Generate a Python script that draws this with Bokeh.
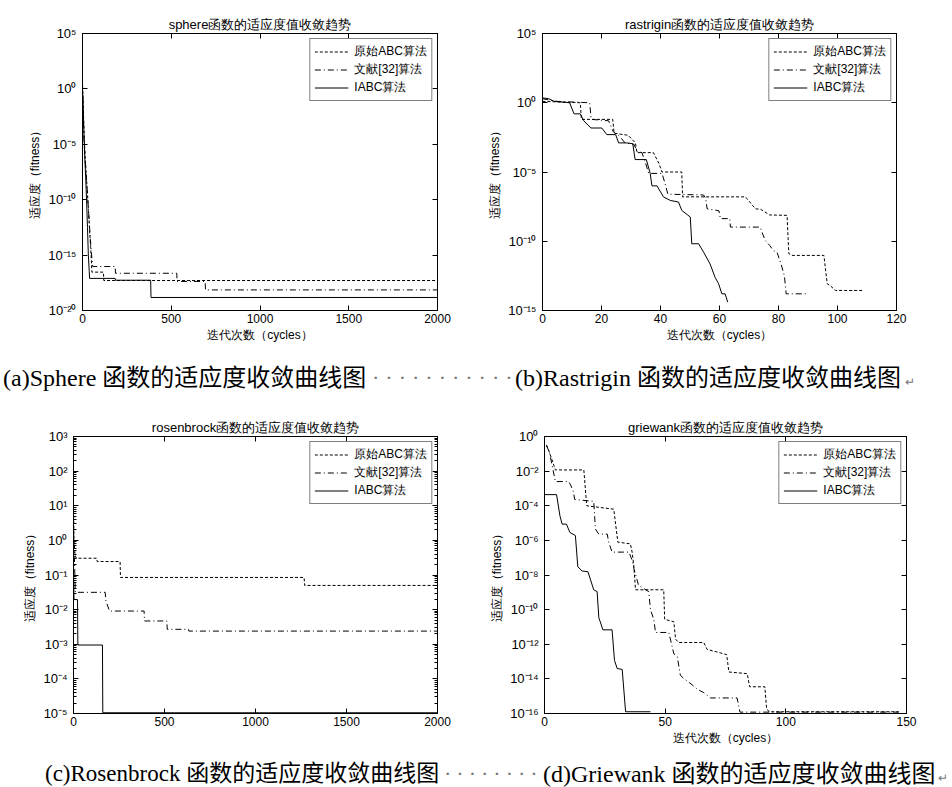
from bokeh.plotting import figure
from bokeh.models import (FixedTicker, LinearAxis, LogAxis, CustomJSTickFormatter,
                          Div, Range1d)
from bokeh.layouts import column, row
from bokeh.embed import file_html
from bokeh.resources import INLINE

# ---------------- data ----------------
LEGEND_LABELS = ["原始ABC算法", "文献[32]算法", "IABC算法"]

# (a) sphere
sphere_abc_iter = [0, 5, 10, 16, 22, 28, 34, 40, 46, 50, 53, 118, 120, 2000]
sphere_abc_fit = [2.0, 1e-2, 3.2e-5, 3.2e-7, 1e-8, 3.2e-10, 1e-11, 1.6e-13, 5e-15,
                  3.2e-16, 2.9e-17, 2.9e-17, 5.1e-18, 5.1e-18]
sphere_lit_iter = [0, 4, 8, 14, 20, 26, 32, 38, 44, 50, 55, 58, 184, 186, 531, 533,
                   691, 693, 2000]
sphere_lit_fit = [3.2, 3.2e-3, 3.2e-5, 1e-6, 3.2e-8, 1e-9, 3.2e-11, 1e-12, 3.2e-14,
                  1.6e-15, 2.5e-16, 9.3e-17, 9.3e-17, 2.3e-17, 2.3e-17, 4.2e-18,
                  4.2e-18, 7.2e-19, 7.2e-19]
sphere_iabc_iter = [0, 3, 8, 12, 18, 24, 28, 33, 38, 40, 184, 186, 384, 386, 2000]
sphere_iabc_fit = [1.0, 1e-1, 1e-4, 1e-6, 1e-8, 3.2e-11, 3.2e-13, 1e-15, 3.2e-17,
                   7.9e-18, 7.9e-18, 5.4e-18, 5.4e-18, 1.5e-19, 1.5e-19]

# (b) rastrigin
rastrigin_abc_iter = [0, 12.8, 13.2, 23.8, 24.3, 29, 31.5, 32, 37.6, 39.5, 40.5, 47.2,
                      47.5, 68.8, 72.2, 74, 77, 82.9, 83.5, 84.6, 95.4, 96.5, 97.5,
                      99.3, 108.9]
rastrigin_abc_fit = [1.26, 1.0, 6.3e-2, 6.3e-2, 6.3e-3, 4.5e-3, 1.26e-3, 2.5e-4, 2.5e-4,
                     4.0e-5, 1e-5, 1e-5, 1.6e-7, 1.6e-7, 2.2e-8, 2.0e-8, 7.9e-9,
                     7.4e-9, 1.26e-11, 9.5e-12, 9.5e-12, 8.5e-14, 6.3e-14, 2.8e-14,
                     2.8e-14]
rastrigin_lit_iter = [0, 2, 5, 16, 16.5, 22.4, 24, 26, 28, 31, 32, 33.7, 35, 36, 40.5,
                      41.5, 42.5, 54.6, 55.3, 55.8, 59.8, 60.3, 63.5, 63.7, 73.8, 74.5,
                      75.5, 77, 78.2, 79.5, 80.8, 82, 82.6, 89.6]
rastrigin_lit_fit = [2.0, 1.58, 1.26, 1.0, 6.3e-2, 5.0e-2, 7.9e-3, 4.0e-3, 1.26e-3,
                     1e-3, 3.2e-4, 2.5e-4, 4.0e-5, 7.9e-6, 7.9e-6, 1.6e-6, 2.5e-7,
                     2.2e-7, 1.26e-7, 2.2e-8, 1.6e-8, 4.3e-9, 4.3e-9, 1.05e-9, 1.05e-9,
                     4.0e-10, 1.15e-10, 5.0e-11, 2.2e-11, 1.6e-11, 2.5e-12, 3.2e-13,
                     1.6e-14, 1.6e-14]
rastrigin_iabc_iter = [0, 2, 4, 9.2, 10.7, 12.8, 14, 16.4, 20.1, 21.8, 24.8, 25.8, 28.6,
                       30.6, 31.4, 35.2, 36.5, 37.1, 38.8, 41, 43.3, 46.1, 47.2, 50.1,
                       50.6, 52.9, 54.6, 56.8, 58.5, 59.7, 60.8, 61.9, 62.8]
rastrigin_iabc_fit = [2.2, 2.0, 1.26, 1.0, 0.158, 0.158, 5.0e-2, 1.5e-2, 1.5e-2, 5.0e-3,
                      5.0e-3, 1.26e-3, 1.26e-3, 1.1e-3, 7.9e-5, 7.9e-5, 7.9e-6, 1e-6,
                      1e-6, 1.6e-7, 8.9e-8, 6.8e-8, 1.7e-8, 5.6e-9, 6.6e-11, 6.6e-11,
                      1.66e-11, 2.3e-12, 2.5e-13, 8.5e-14, 1.6e-14, 1.6e-14, 4.0e-15]

# (c) rosenbrock
rosen_abc_iter = [0, 3, 8, 15, 128, 130, 256, 258, 1267, 1270, 2000]
rosen_abc_fit = [10.0, 1.0, 0.4, 0.305, 0.305, 0.245, 0.245, 0.085, 0.085, 0.05, 0.05]
rosen_lit_iter = [0, 5, 10, 174, 178, 198, 388, 390, 513, 515, 632, 634, 2000]
rosen_lit_fit = [2.0, 0.316, 0.0316, 0.0316, 0.0178, 0.0091, 0.0091, 0.0047, 0.0047,
                 0.0027, 0.0027, 0.0024, 0.0024]
rosen_iabc_iter = [0, 3, 22, 24, 159, 161, 2000]
rosen_iabc_fit = [0.126, 0.0195, 0.0195, 0.00095, 0.00095, 1.05e-5, 1.05e-5]

# (d) griewank
griewank_abc_iter = [0.8, 2, 3.5, 4.5, 16.3, 17.5, 28.7, 30.4, 35.6, 36.3, 37, 37.7,
                     49.4, 49.8, 53.6, 54.3, 55.6, 66, 67.4, 72.8, 75.5, 76.4, 84, 85,
                     91.3, 92, 93, 146.8]
griewank_abc_fit = [0.316, 0.126, 0.0316, 0.0117, 0.0117, 1e-4, 6.3e-5, 7.9e-7, 6.3e-7,
                    2.1e-7, 3.7e-8, 1.4e-9, 1.4e-9, 2.75e-11, 2.0e-11, 2.0e-12,
                    1.26e-12, 1.26e-12, 5.0e-13, 3.2e-13, 2.5e-13, 2.5e-14, 2.0e-14,
                    3.5e-15, 3.5e-15, 2.1e-16, 1.26e-16, 1.26e-16]
griewank_lit_iter = [0.8, 2, 3.5, 4.5, 10, 10.8, 12, 12.5, 20.4, 21.1, 22.5, 26, 26.6,
                     28, 35, 36.3, 37, 38.4, 39, 43.2, 43.9, 45.3, 46, 51.5, 53.6, 55,
                     56.3, 57.7, 61.2, 63.3, 66, 68.8, 79.8, 81, 146.8]
griewank_lit_fit = [0.316, 0.126, 0.0126, 2.5e-3, 2.5e-3, 1.6e-3, 6.3e-4, 2.3e-4,
                    1.8e-4, 4.5e-6, 2.3e-6, 2.3e-6, 7.9e-7, 2.1e-7, 2.1e-7, 7.1e-8,
                    2.5e-8, 5.0e-9, 2.5e-9, 1.1e-9, 1.0e-10, 2.75e-11, 4.8e-12,
                    4.8e-12, 2.8e-13, 2.0e-13, 1.6e-14, 1.07e-14, 4.5e-15, 2.5e-15,
                    1.6e-15, 7.9e-16, 7.9e-16, 1.2e-16, 1.2e-16]
griewank_iabc_iter = [0, 5, 6.4, 7.3, 9.1, 10.5, 12.8, 13.8, 15.6, 18, 20.4, 21.8, 22.5,
                      24.2, 28.0, 29, 30.1, 32.2, 33.6, 43.9]
griewank_iabc_fit = [4.4e-4, 4.4e-4, 2.6e-5, 8.7e-6, 8.7e-6, 2.9e-6, 1.9e-6, 3.0e-8,
                     1.7e-8, 1.55e-8, 1.4e-9, 1.1e-9, 3.5e-11, 6.8e-12, 6.8e-12,
                     1.17e-13, 4.0e-14, 3.5e-14, 1.26e-16, 1.26e-16]

# titles / axis labels / ticks
titles = ["sphere函数的适应度值收敛趋势", "rastrigin函数的适应度值收敛趋势",
          "rosenbrock函数的适应度值收敛趋势", "griewank函数的适应度值收敛趋势"]
x_label = "迭代次数（cycles）"
y_label = "适应度（fitness）"
sphere_xticks = [0, 500, 1000, 1500, 2000]
rastrigin_xticks = [0, 20, 40, 60, 80, 100, 120]
rosen_xticks = [0, 500, 1000, 1500, 2000]
griewank_xticks = [0, 50, 100, 150]
sphere_yticks = [1e-20, 1e-15, 1e-10, 1e-5, 1e0, 1e5]
rastrigin_yticks = [1e-15, 1e-10, 1e-5, 1e0, 1e5]
rosen_yticks = [1e-5, 1e-4, 1e-3, 1e-2, 1e-1, 1e0, 1e1, 1e2, 1e3]
griewank_yticks = [1e-16, 1e-14, 1e-12, 1e-10, 1e-8, 1e-6, 1e-4, 1e-2, 1e0]
rosen_minor = [k * 10.0 ** e for e in range(-5, 3) for k in range(2, 10)]

# ---------------- styling ----------------
FONT = "Liberation Sans"
DASHES = ["3 2", "6 3 1 3", "solid"]

SUP_CODE = """
const sup = {"0":"⁰","1":"¹","2":"²","3":"³","4":"⁴","5":"⁵","6":"⁶","7":"⁷","8":"⁸","9":"⁹","-":"⁻"};
const e = Math.round(Math.log10(tick));
let s = "";
for (const ch of String(e)) { s += sup[ch]; }
return "10" + s;
"""


def panel(title, series, xr, xticks, yr, yticks, minor, size, borders, show_xlabel=True):
    w, h = size
    bl, br, bt, bb = borders
    p = figure(width=w, height=h, y_axis_type="log",
               x_range=Range1d(*xr), y_range=Range1d(*yr),
               output_backend="svg", toolbar_location=None, title=title,
               min_border_left=bl, min_border_right=br,
               min_border_top=bt, min_border_bottom=bb)
    p.title.text_font = FONT
    p.title.text_font_size = "13px"
    p.title.text_font_style = "normal"
    p.title.text_color = "black"
    p.title.align = "center"
    p.title.standoff = 3
    p.grid.visible = False
    p.outline_line_color = "black"
    p.outline_line_width = 1
    p.background_fill_color = "white"
    p.border_fill_color = "white"

    xt = FixedTicker(ticks=xticks)
    yt = FixedTicker(ticks=yticks, minor_ticks=minor)
    fmt = CustomJSTickFormatter(code=SUP_CODE)

    xa = p.xaxis[0]
    xa.ticker = xt
    ya = p.yaxis[0]
    ya.ticker = yt
    ya.formatter = fmt
    for ax in (xa, ya):
        ax.major_tick_in = 5
        ax.major_tick_out = 0
        ax.minor_tick_in = 3
        ax.minor_tick_out = 0
        ax.major_label_text_font = FONT
        ax.major_label_text_color = "black"
        ax.axis_line_color = "black"
        ax.major_tick_line_color = "black"
        ax.axis_label_text_font = FONT
        ax.axis_label_text_font_size = "12px"
        ax.axis_label_text_font_style = "normal"
        ax.axis_label_text_color = "black"
    xa.major_label_text_font_size = "12px"
    ya.major_label_text_font_size = "13px"
    xa.minor_tick_line_color = None
    if not minor:
        ya.minor_tick_line_color = None
    xa.major_label_standoff = 3
    xa.axis_label_standoff = 2
    ya.major_label_standoff = 6
    ya.axis_label_standoff = 3
    if show_xlabel:
        xa.axis_label = x_label
    ya.axis_label = y_label

    # tick marks on the top and right edges (labels hidden)
    top = LinearAxis(ticker=xt, major_tick_in=5, major_tick_out=0,
                     minor_tick_line_color=None, major_label_standoff=0,
                     major_label_text_font_size="1px", major_label_text_alpha=0,
                     axis_line_color="black")
    right = LogAxis(ticker=yt, major_tick_in=5, major_tick_out=0, minor_tick_in=3,
                    minor_tick_out=0, major_label_standoff=0,
                    major_label_text_font_size="1px", major_label_text_alpha=0,
                    axis_line_color="black")
    if not minor:
        right.minor_tick_line_color = None
    p.add_layout(top, "above")
    p.add_layout(right, "right")

    for (xs, ys), dash, lab in zip(series, DASHES, LEGEND_LABELS):
        p.line(xs, ys, line_color="black", line_width=1, line_dash=dash, legend_label=lab)

    lg = p.legend[0]
    lg.location = "top_right"
    lg.margin = 5
    lg.padding = 4
    lg.spacing = 1
    lg.glyph_width = 34
    lg.glyph_height = 13
    lg.label_height = 13
    lg.label_standoff = 6
    lg.label_text_font = FONT
    lg.label_text_font_size = "12px"
    lg.label_text_color = "black"
    lg.border_line_color = "black"
    lg.border_line_width = 1
    lg.background_fill_color = "white"
    lg.background_fill_alpha = 1
    return p


pa = panel(titles[0],
           [(sphere_abc_iter, sphere_abc_fit), (sphere_lit_iter, sphere_lit_fit),
            (sphere_iabc_iter, sphere_iabc_fit)],
           (0, 2000), sphere_xticks, (1e-20, 1e5), sphere_yticks, [],
           (470, 350), (82, 33, 32, 40))
pb = panel(titles[1],
           [(rastrigin_abc_iter, rastrigin_abc_fit), (rastrigin_lit_iter, rastrigin_lit_fit),
            (rastrigin_iabc_iter, rastrigin_iabc_fit)],
           (0, 120), rastrigin_xticks, (1e-15, 1e5), rastrigin_yticks, [],
           (482, 350), (72, 56, 33, 40))
pc = panel(titles[2],
           [(rosen_abc_iter, rosen_abc_fit), (rosen_lit_iter, rosen_lit_fit),
            (rosen_iabc_iter, rosen_iabc_fit)],
           (0, 2000), rosen_xticks, (1e-5, 1e3), rosen_yticks, rosen_minor,
           (470, 355), (73, 33, 39, 37), show_xlabel=False)
pd_ = panel(titles[3],
            [(griewank_abc_iter, griewank_abc_fit), (griewank_lit_iter, griewank_lit_fit),
             (griewank_iabc_iter, griewank_iabc_fit)],
            (0, 150), griewank_xticks, (1e-16, 1e0), griewank_yticks, [],
            (482, 355), (74, 46, 41, 33))

# ---------------- captions ----------------
captions_1 = ["(a)Sphere 函数的适应度收敛曲线图", "(b)Rastrigin 函数的适应度收敛曲线图"]
captions_2 = ["(c)Rosenbrock 函数的适应度收敛曲线图", "(d)Griewank 函数的适应度收敛曲线图"]


def caption_div(texts, lefts, sizes, dots_left, n_dots, dot_space, mark_left, top, height):
    base = ("position:absolute;white-space:nowrap;font-family:'Liberation Serif','Noto Sans CJK SC',serif;"
            "line-height:24px;color:#000;")
    html = [f'<div style="position:relative;width:952px;height:{height}px;overflow:hidden;">']
    html.append(f'<span style="{base}font-size:{sizes[0]}px;left:{lefts[0]}px;top:{top}px;">{texts[0]}</span>')
    html.append(f'<span style="{base}font-size:22px;left:{dots_left}px;top:{top}px;color:#777;'
                f'letter-spacing:{dot_space}px;">{"·" * n_dots}</span>')
    html.append(f'<span style="{base}font-size:{sizes[1]}px;left:{lefts[1]}px;top:{top}px;">{texts[1]}</span>')
    html.append(f'<span style="{base}left:{mark_left}px;top:{top + 4}px;font-size:12px;color:#777;">↵</span>')
    html.append('</div>')
    return Div(text="".join(html), width=952, height=height, margin=0)


cap1 = caption_div(captions_1, (3, 515), (24, 24), 372, 11, 6, 905, 16, 45)
cap2 = caption_div(captions_2, (45, 543), (23, 24), 444, 8, 5, 938, 12, 37)

layout = column(row(pa, pb, spacing=0), cap1, row(pc, pd_, spacing=0), cap2, spacing=0)

open("out.html", "w").write(file_html(layout, INLINE))
